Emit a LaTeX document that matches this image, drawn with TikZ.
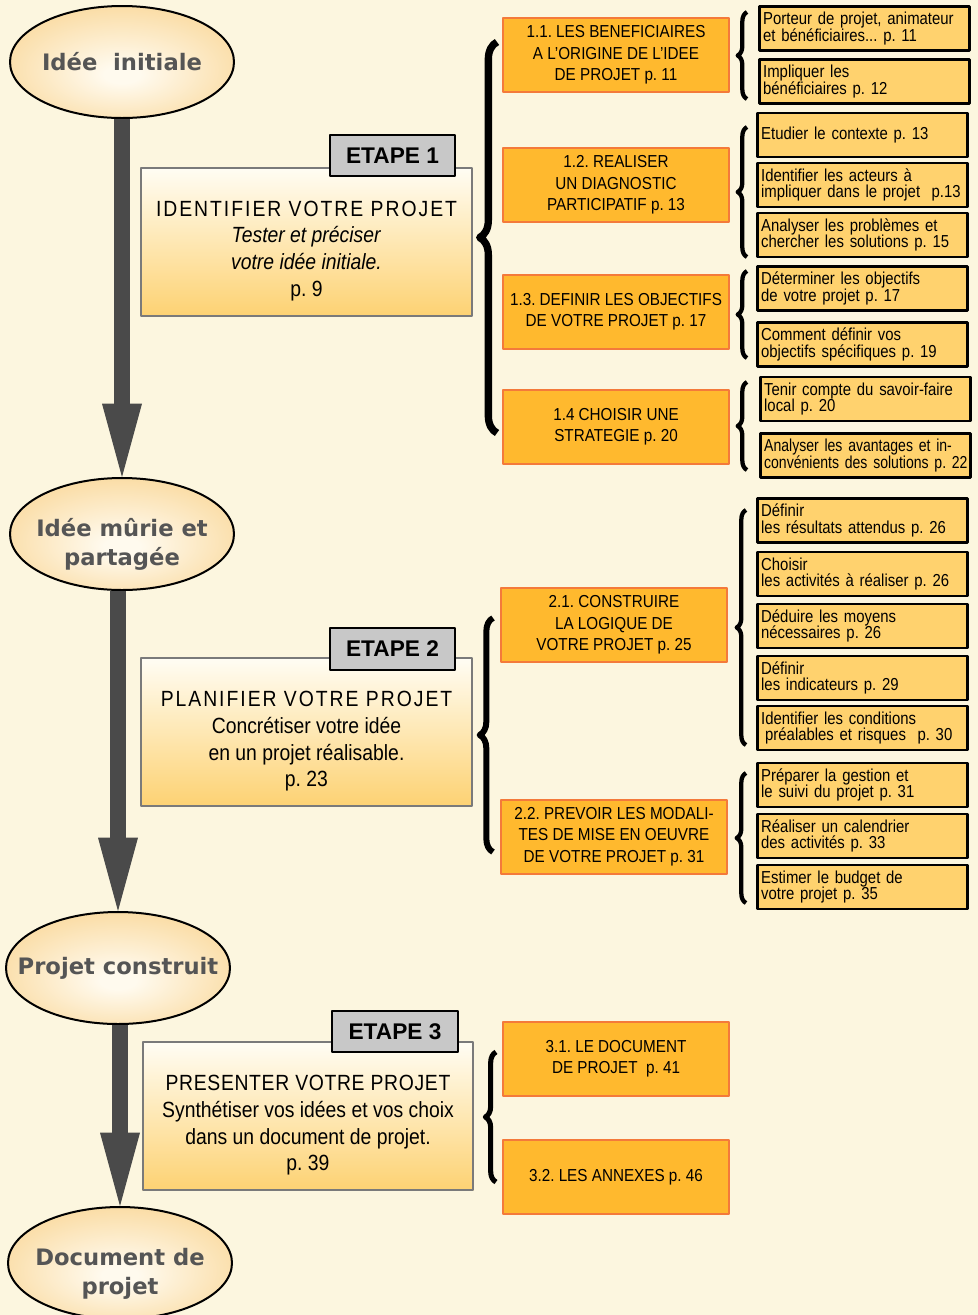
\documentclass[tikz,border=0pt]{standalone}
\usepackage{fontspec}
\setmainfont{Liberation Sans}
\newfontfamily\narrowfont[FakeStretch=0.88]{Liberation Sans}
\newfontfamily\itemfont[FakeStretch=0.86]{Liberation Sans}
\newfontfamily\itemfontn[FakeStretch=0.81]{Liberation Sans}
\newfontfamily\titlefont[FakeStretch=0.88,LetterSpace=9]{Liberation Sans}
\newfontfamily\titlefontb[FakeStretch=0.88,LetterSpace=3]{Liberation Sans}
\newfontfamily\ovalfont{DejaVu Sans}
\usetikzlibrary{arrows.meta,decorations.pathreplacing,shapes.geometric}
\frenchspacing
\definecolor{bgcream}{HTML}{FCF6DF}
\definecolor{subfill}{HTML}{FFB92E}
\definecolor{subdraw}{HTML}{F47A3A}
\definecolor{itemfill}{HTML}{FFD26E}
\definecolor{steptop}{HTML}{FFFDF4}
\definecolor{stepbot}{HTML}{FDD273}
\definecolor{stepline}{HTML}{7A7A7A}
\definecolor{labelgray}{HTML}{C8C8C8}
\definecolor{arrowgray}{HTML}{4A4A4A}
\definecolor{ovalin}{HTML}{FFFAEE}
\definecolor{ovalout}{HTML}{F9D593}
\definecolor{ovaltxt}{HTML}{555555}
\pgfdeclareradialshading{ovalshade}{\pgfpoint{0bp}{-6bp}}{color(0bp)=(ovalin); color(4bp)=(ovalin); color(34bp)=(ovalout); color(50bp)=(ovalout)}
\tikzset{
  oval/.style={ellipse,draw=black,line width=1.5pt,shading=ovalshade,minimum width=168pt,minimum height=84pt,inner sep=0pt},
  ovaltext/.style={font=\ovalfont\bfseries\fontsize{17}{22}\selectfont,text=ovaltxt,align=center},
  stepbox/.style={rectangle,draw=stepline,line width=1.5pt,top color=steptop,bottom color=stepbot,minimum width=248pt,minimum height=111pt},
  steptext/.style={align=center,font=\narrowfont\fontsize{16.5}{20}\selectfont},
  steplabel/.style={rectangle,draw=black,line width=1.5pt,fill=labelgray,minimum width=94pt,minimum height=31pt,font=\bfseries\fontsize{17}{20}\selectfont},
  subbox/.style={rectangle,draw=subdraw,line width=1.5pt,fill=subfill,minimum width=169.5pt,minimum height=55.5pt,align=center,font=\narrowfont\fontsize{13}{16}\selectfont},
  itembox/.style={rectangle,draw=black,line width=2.2pt,fill=itemfill,minimum height=33pt,text width=152pt,inner xsep=3pt,inner ysep=1pt,align=left,font=\itemfont\fontsize{13}{12.5}\selectfont},
  bigarrow/.style={draw=arrowgray,line width=12pt,-{Triangle[length=55pt,width=30pt,line width=0pt]}},
  bigbrace/.style={decorate,decoration={brace,amplitude=#1},line width=4.5pt},
  smallbrace/.style={decorate,decoration={brace,amplitude=7pt},line width=3.2pt}
}
\begin{document}
\begin{tikzpicture}[x=0.75pt,y=-0.75pt,line join=round]
\fill[bgcream] (0,0) rectangle (978,1315);
\useasboundingbox (0,0) rectangle (978,1315);

\node[oval] (o1) at (122,62) {};
\node[ovaltext] (t1) at (o1) {Idée\ \ initiale};
\node[oval] (o2) at (122,534) {};
\node[ovaltext] (t2) at ([yshift=-8pt]o2.center) {Idée mûrie et\\partagée};
\node[oval] (o3) at (118,968) {};
\node[ovaltext] (t3) at (o3) {Projet construit};
\node[oval] (o4) at (120,1263) {};
\node[ovaltext] (t4) at ([yshift=-8pt]o4.center) {Document de\\projet};

\draw[bigarrow] (o1.south) -- (o2.north);
\draw[bigarrow] (o2.south -| o3.north) -- (o3.north);
\draw[bigarrow] (o3.south -| o4.north) -- (o4.north);

\node[stepbox] (e1) at (306.5,241.5) {};
\node[steptext] (e1t) at ([yshift=-7pt]e1.center) {{\titlefont IDENTIFIER VOTRE PROJET}\\\textit{Tester et préciser}\\\textit{votre idée initiale.}\\p. 9};
\node[steplabel] (l1) at (392.5,155.5) {ETAPE 1};
\node[stepbox] (e2) at (306.5,732) {};
\node[steptext] (e2t) at ([yshift=-7pt]e2.center) {{\titlefont PLANIFIER VOTRE PROJET}\\Concrétiser votre idée\\en un projet réalisable.\\p. 23};
\node[steplabel] (l2) at (392.5,649) {ETAPE 2};
\node[stepbox] (e3) at (308,1116) {};
\node[steptext] (e3t) at ([yshift=-7pt]e3.center) {{\titlefontb PRESENTER VOTRE PROJET}\\Synthétiser vos idées et vos choix\\dans un document de projet.\\p. 39};
\node[steplabel] (l3) at (395,1031.5) {ETAPE 3};

\draw[bigbrace=13pt,line width=5.5pt] (497,433) -- (497,42);
\draw[bigbrace=10pt] (493,852) -- (493,618);
\draw[bigbrace=8pt,line width=3.8pt] (496,1182) -- (496,1052);

\node[subbox] (b11) at (616,55) {1.1. LES BENEFICIAIRES\\A L’ORIGINE DE L’IDEE\\DE PROJET p. 11};
\node[subbox] (b12) at (616,185) {1.2. REALISER\\UN DIAGNOSTIC\\PARTICIPATIF p. 13};
\node[subbox] (b13) at (616,312) {1.3. DEFINIR LES OBJECTIFS\\DE VOTRE PROJET p. 17};
\node[subbox] (b14) at (616,426.5) {1.4 CHOISIR UNE\\STRATEGIE p. 20};
\node[subbox] (b21) at (614,625) {2.1. CONSTRUIRE\\LA LOGIQUE DE\\VOTRE PROJET p. 25};
\node[subbox] (b22) at (614,836.5) {2.2. PREVOIR LES MODALI-\\TES DE MISE EN OEUVRE\\DE VOTRE PROJET p. 31};
\node[subbox] (b31) at (616,1058.5) {3.1. LE DOCUMENT\\DE PROJET\ \ p. 41};
\node[subbox] (b32) at (616,1177) {3.2. LES ANNEXES p. 46};

\draw[smallbrace] (747,99) -- (747,12);
\draw[smallbrace] (747,257) -- (747,127);
\draw[smallbrace] (747,358) -- (747,271);
\draw[smallbrace] (747,470) -- (747,382);
\draw[smallbrace] (746,745) -- (746,510);
\draw[smallbrace] (746,903) -- (746,773);

\node[itembox] (s1) at (864.5,28.5) {Porteur de projet, animateur\\et bénéficiaires... p. 11};
\node[itembox] (s2) at (864.5,81.5) {Impliquer les\\bénéficiaires p. 12};
\node[itembox] (s3) at (862.5,135) {Etudier le contexte p. 13};
\node[itembox] (s4) at (862.5,185) {Identifier les acteurs à\\\mbox{impliquer dans le projet\ \ p.13}};
\node[itembox] (s5) at (862.5,235) {Analyser les problèmes et\\chercher les solutions p. 15};
\node[itembox] (s6) at (862.5,288.5) {Déterminer les objectifs\\de votre projet p. 17};
\node[itembox] (s7) at (862.5,344.5) {Comment définir vos\\objectifs spécifiques p. 19};
\node[itembox] (s8) at (865.5,399) {Tenir compte du savoir-faire\\local p. 20};
\node[itembox] (s9) at (865.5,455.5) {\itemfontn\mbox{Analyser les avantages et in-}\\\mbox{convénients des solutions p. 22}};
\node[itembox] (s10) at (862.5,520.5) {Définir\\les résultats attendus p. 26};
\node[itembox] (s11) at (862.5,574) {Choisir\\les activités à réaliser p. 26};
\node[itembox] (s12) at (862.5,626) {Déduire les moyens\\nécessaires p. 26};
\node[itembox] (s13) at (862.5,678) {Définir\\les indicateurs p. 29};
\node[itembox] (s14) at (862.5,728) {Identifier les conditions\\\hspace*{3pt}préalables et risques\ \ p. 30};
\node[itembox] (s15) at (862.5,785) {Préparer la gestion et\\le suivi du projet p. 31};
\node[itembox] (s16) at (862.5,836) {Réaliser un calendrier\\des activités p. 33};
\node[itembox] (s17) at (862.5,887) {Estimer le budget de\\votre projet p. 35};
\end{tikzpicture}
\end{document}
